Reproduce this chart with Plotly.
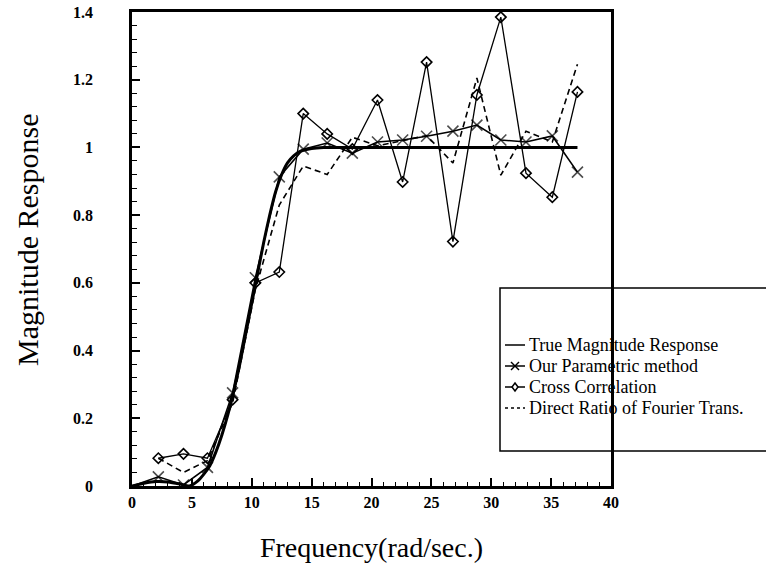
import plotly.graph_objects as go

# Sampled frequencies (rad/sec) of the three estimators
freq = [2.2, 4.3, 6.3, 8.4, 10.3, 12.3, 14.3, 16.3, 18.4, 20.5,
        22.6, 24.6, 26.8, 28.8, 30.8, 32.9, 35.1, 37.2]

# True magnitude response of the filter
true_freq = [0, 1, 2, 3, 4, 4.8, 5.5, 6, 6.5, 7, 7.5, 8, 8.5, 9, 9.5, 10,
             10.5, 11, 11.5, 12, 12.5, 13, 13.5, 14, 15, 16, 17, 20, 25,
             30, 37.2]
true_mag = [0, 0.008, 0.013, 0.012, 0.006, 0.0, 0.015, 0.035, 0.06, 0.1,
            0.15, 0.21, 0.28, 0.36, 0.45, 0.54, 0.63, 0.72, 0.80, 0.87,
            0.92, 0.955, 0.975, 0.988, 0.997, 1.0, 1.0, 1.0, 1.0, 1.0, 1.0]

# Our parametric method (line starts at the origin)
param_freq = [0] + freq
param_mag = [0, 0.027, 0.003, 0.055, 0.275, 0.615, 0.913, 0.995, 1.013,
             0.983, 1.016, 1.022, 1.033, 1.048, 1.066, 1.022, 1.016,
             1.034, 0.927]

# Cross correlation estimate
cross_mag = [0.082, 0.095, 0.082, 0.255, 0.600, 0.632, 1.100, 1.040, 0.995,
             1.140, 0.898, 1.252, 0.722, 1.155, 1.385, 0.924, 0.853, 1.164]

# Direct ratio of Fourier transforms
ratio_mag = [0.082, 0.040, 0.075, 0.245, 0.580, 0.830, 0.945, 0.920, 1.030,
             1.005, 1.020, 1.035, 0.954, 1.205, 0.918, 1.048, 1.016, 1.246]

x_ticks = [0, 5, 10, 15, 20, 25, 30, 35, 40]
y_ticks = [0, 0.2, 0.4, 0.6, 0.8, 1, 1.2, 1.4]

legend_labels = ["True Magnitude Response", "Our Parametric method",
                 "Cross Correlation", "Direct Ratio of Fourier Trans."]

SERIF = "Liberation Serif"
INK = "black"

# Page geometry (pixels)
W, H = 766, 571
L, R, T, B = 132, 155, 12, 85
PW, PH = W - L - R, H - T - B


def px_x(px):
    """Horizontal page pixel -> paper fraction."""
    return (px - L) / PW


def px_y(py):
    """Vertical page pixel (from top) -> paper fraction."""
    return (H - B - py) / PH


fig = go.Figure()

fig.add_trace(go.Scatter(
    x=true_freq, y=true_mag, mode="lines", name=legend_labels[0],
    line=dict(color=INK, width=3, shape="spline", smoothing=0.6),
))
fig.add_trace(go.Scatter(
    x=param_freq, y=param_mag, mode="lines+markers", name=legend_labels[1],
    line=dict(color=INK, width=1.6),
    marker=dict(symbol="x-thin-open", size=[0] + [11] * len(freq),
                color=INK, line=dict(color=INK, width=1.6)),
))
fig.add_trace(go.Scatter(
    x=freq, y=cross_mag, mode="lines+markers", name=legend_labels[2],
    line=dict(color=INK, width=1.3),
    marker=dict(symbol="diamond-open", size=8, color=INK,
                line=dict(color=INK, width=1.6)),
))
fig.add_trace(go.Scatter(
    x=freq, y=ratio_mag, mode="lines", name=legend_labels[3],
    line=dict(color=INK, width=1.6, dash="6px,4px"),
))

axis_common = dict(
    showline=True, linecolor=INK, linewidth=2.5, mirror=True,
    showgrid=False, zeroline=False,
    ticks="inside", ticklen=8, tickwidth=1.5, tickcolor=INK,
    tickfont=dict(family=SERIF, size=16, color=INK, weight="bold"),
)

fig.update_xaxes(
    range=[0, 40], tickvals=x_ticks,
    minor=dict(dtick=1, tick0=0, ticks="inside", ticklen=4, tickwidth=1,
               tickcolor=INK),
    title=dict(text="Frequency(rad/sec.)", standoff=28,
               font=dict(family=SERIF, size=28, color=INK)),
    **axis_common,
)
fig.update_yaxes(
    range=[0, 1.4], tickvals=y_ticks,
    minor=dict(dtick=0.04, tick0=0, ticks="inside", ticklen=5, tickwidth=1,
               tickcolor=INK),
    ticklabelstandoff=33,
    **axis_common,
)

# Vertical axis caption
fig.add_annotation(
    text="Magnitude Response", textangle=-90, showarrow=False,
    xref="paper", yref="paper", x=px_x(27), y=px_y(240),
    xanchor="center", yanchor="middle",
    font=dict(family=SERIF, size=30, color=INK),
)

# Hand-built legend: frame running off the right edge, short samples, text
fig.add_shape(type="rect", xref="paper", yref="paper",
              x0=px_x(500), x1=px_x(W + 40), y0=px_y(451), y1=px_y(288),
              line=dict(color=INK, width=1.5), fillcolor="white",
              layer="below")

row_y = [345, 366, 387, 408]
sample_x0, sample_x1, text_x = 505, 525, 527
mid = (sample_x0 + sample_x1) / 2
for i, label in enumerate(legend_labels):
    yy = px_y(row_y[i])
    fig.add_shape(type="line", xref="paper", yref="paper",
                  x0=px_x(sample_x0), x1=px_x(sample_x1), y0=yy, y1=yy,
                  line=dict(color=INK, width=1.5,
                            dash="3px,3px" if i == 3 else "solid"))
    fig.add_annotation(
        text=label, showarrow=False, xref="paper", yref="paper",
        x=px_x(text_x), y=yy, xanchor="left", yanchor="middle",
        font=dict(family=SERIF, size=18, color=INK),
    )

# Sample glyphs: a cross on row 2, a diamond on row 3
cy = row_y[1]
for d in (-1, 1):
    fig.add_shape(type="line", xref="paper", yref="paper",
                  x0=px_x(mid - 4), x1=px_x(mid + 4),
                  y0=px_y(cy - 4 * d), y1=px_y(cy + 4 * d),
                  line=dict(color=INK, width=1.5))
cy = row_y[2]
fig.add_shape(
    type="path", xref="paper", yref="paper",
    path=(f"M {px_x(mid)} {px_y(cy - 4)} L {px_x(mid + 3)} {px_y(cy)} "
          f"L {px_x(mid)} {px_y(cy + 4)} L {px_x(mid - 3)} {px_y(cy)} Z"),
    line=dict(color=INK, width=1.5), fillcolor="white",
)

fig.update_layout(
    width=W, height=H,
    margin=dict(l=L, r=R, t=T, b=B, autoexpand=False),
    paper_bgcolor="white", plot_bgcolor="white",
    font=dict(family=SERIF, color=INK),
    showlegend=False,
)

fig.write_html("out.html")
